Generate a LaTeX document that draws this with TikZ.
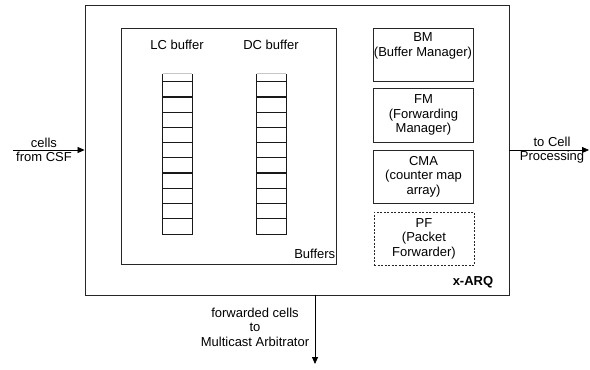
\documentclass[tikz,border=0pt]{standalone}
\usepackage{fontspec}
\setmainfont{Liberation Sans}
\usetikzlibrary{arrows.meta}
\begin{document}
\begin{tikzpicture}[x=1bp,y=-1bp,
  font=\fontsize{13bp}{14.5bp}\selectfont,
  box/.style={draw=black!85, line width=0.8bp, rectangle, inner sep=0pt, align=center},
  txt/.style={align=center, inner sep=0pt},
  cell/.style={draw=black!90, line width=1.2bp},
  arr/.style={draw=black, line width=0.8bp, -{Triangle[length=7bp,width=6bp]}}]
\useasboundingbox (0,0) rectangle (590,369);

% outer x-ARQ box
\node[box, minimum width=424bp, minimum height=290bp] (xarq) at (297,150) {};
\node[txt, font=\fontsize{13bp}{14.5bp}\selectfont\bfseries, anchor=east] (xarqlbl) at ([xshift=-16bp,yshift=13bp]xarq.south east) {x-ARQ};

% buffers box
\node[box, minimum width=215bp, minimum height=236bp] (buffers) at (228.5,146) {};
\node[txt, anchor=south east] (bufflbl) at ([xshift=-1bp,yshift=6bp]buffers.south east) {Buffers};
\node[txt] (lclbl) at (177,45) {LC buffer};
\node[txt] (dclbl) at (271,45) {DC buffer};

% queues
\foreach \n/\cx in {lc/177.5, dc/271.5}{
  \node[draw=none, minimum width=29bp, minimum height=160bp, inner sep=0pt] (\n) at (\cx,154) {};
  \draw[gray!45, line width=1.2bp] (\n.north west) -- (\n.north east);
  \draw[cell] (\n.north west) -- (\n.south west) -- (\n.south east) -- (\n.north east);
  \foreach \k in {0,...,9}
    \draw[cell] ({\cx-14.5},{81.7+15.23*\k}) -- ++(29,0);
}

% right-hand modules
\node[box, minimum width=100bp, minimum height=53bp] (bm) at (423,54.5) {};
\node[txt, anchor=north] (bmtxt) at ([yshift=-5bp]bm.north) {BM\\(Buffer Manager)};
\node[box, minimum width=100bp, minimum height=54bp] (fm) at (423.5,115) {FM\\(Forwarding\\Manager)};
\node[box, minimum width=100bp, minimum height=53bp] (cma) at (423.5,176.5) {CMA\\(counter map\\array)};
\node[box, dash pattern=on 2bp off 1.5bp, minimum width=100bp, minimum height=53bp] (pf) at (424,238.5) {PF\\(Packet\\Forwarder)};

% connectors
\coordinate (src) at (13,150);
\coordinate (dst) at (589,150);
\coordinate (fwd) at (315,364);
\draw[arr] (src) -- (xarq.west);
\draw[arr] (xarq.east) -- (dst);
\draw[arr] (xarq.south -| fwd) -- (fwd);

\node[txt] (inlbl) at (44,150) {cells\\from CSF};
\node[txt] (outlbl) at (552,150) {to Cell\\Processing};
\node[txt] (fwdlbl) at (255,327) {forwarded cells\\to\\Multicast Arbitrator};
\end{tikzpicture}
\end{document}
